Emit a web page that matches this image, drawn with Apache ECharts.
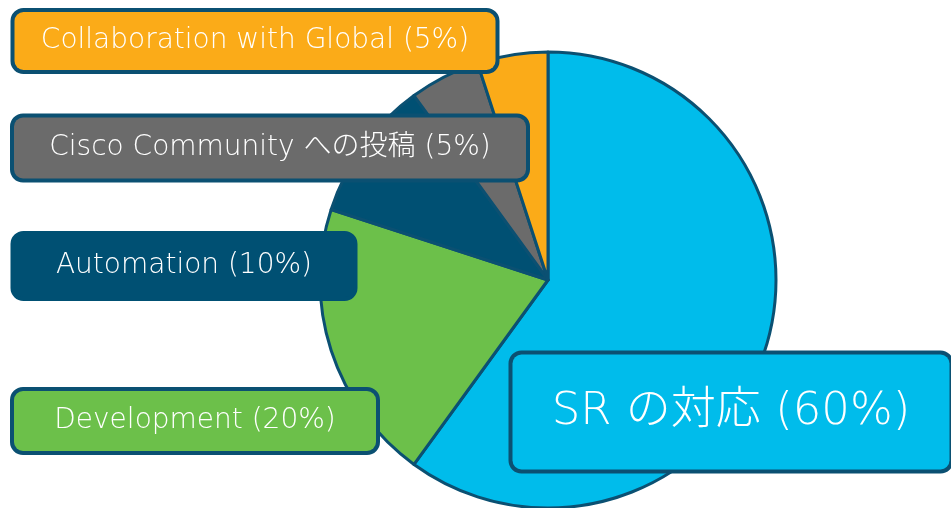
<!DOCTYPE html>
<html>
<head>
<meta charset="utf-8">
<script src="https://cdn.jsdelivr.net/npm/echarts@6/dist/echarts.min.js"></script>
<style>
  html, body { margin: 0; padding: 0; background: #fff; }
  #main { width: 951px; height: 508px; }
</style>
</head>
<body>
<div id="main"></div>
<script>
// 項目名と割合
var names = ['SR の対応', 'Development', 'Automation', 'Cisco Community への投稿', 'Collaboration with Global'];
var values = [60, 20, 10, 5, 5];
var colors = ['#00BCEB', '#6CC04A', '#005073', '#6B6B6B', '#FBAB18'];

// ラベル枠の位置とサイズ（中心x, 中心y, 幅, 高さ, 文字サイズ）
var boxes = [
  [731, 412, 437, 115, 45],
  [195, 421, 362, 60, 28],
  [184, 266, 339, 62, 28],
  [270, 148, 512, 61, 28],
  [255, 41, 481, 58, 28]
];

var edge = '#0B5072';
var chart = echarts.init(document.getElementById('main'));

var data = names.map(function (n, i) {
  var b = boxes[i];
  return {
    name: n,
    value: values[i],
    itemStyle: { color: colors[i] },
    label: {
      backgroundColor: colors[i],
      borderColor: i === 2 ? colors[i] : edge,
      width: b[2],
      lineHeight: b[3],
      fontSize: b[4]
    }
  };
});

var option = {
  animation: false,
  series: [{
    type: 'pie',
    center: [548, 280],
    radius: 228,
    startAngle: 90,
    clockwise: true,
    itemStyle: {
      borderColor: edge,
      borderWidth: 3
    },
    label: {
      show: true,
      position: 'inside',
      formatter: '{b} ({c}%)',
      color: '#fff',
      fontFamily: "'DejaVu Sans', 'Noto Sans CJK JP', sans-serif",
      fontWeight: 200,
      align: 'center',
      borderWidth: 4,
      borderRadius: 9,
      padding: 0
    },
    labelLine: { show: false },
    labelLayout: function (p) {
      var b = boxes[p.dataIndex];
      return { x: b[0], y: b[1], align: 'center', verticalAlign: 'middle' };
    },
    emphasis: { disabled: true },
    data: data
  }]
};

chart.setOption(option);
</script>
</body>
</html>
